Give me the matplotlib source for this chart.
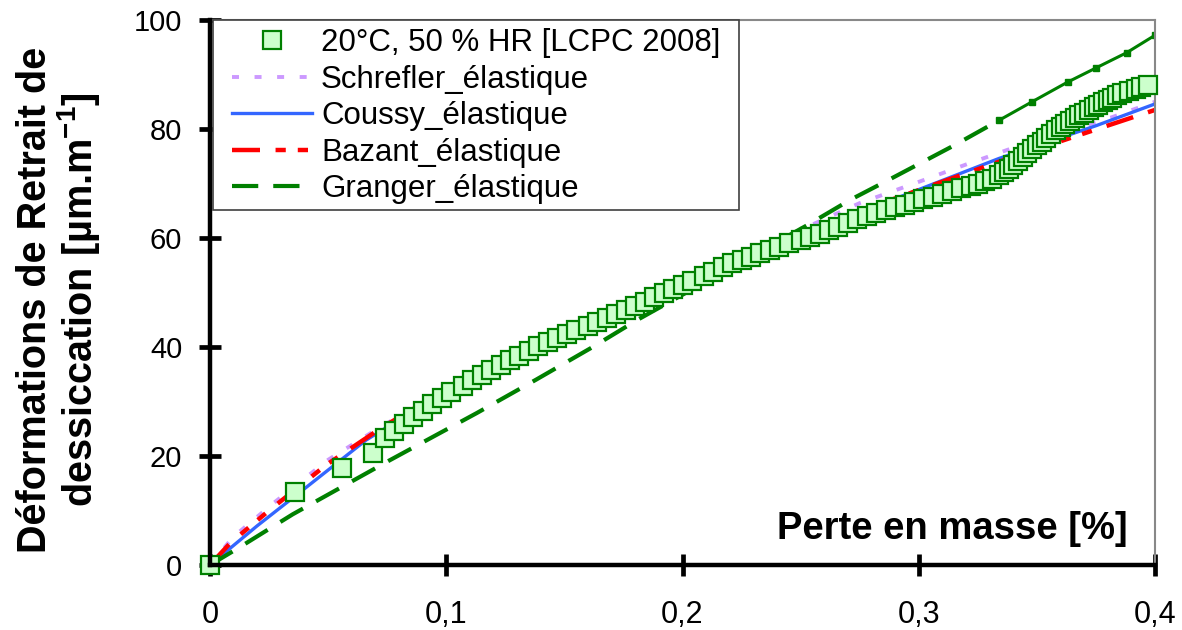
import numpy as np
import matplotlib
matplotlib.use('Agg')
import matplotlib.pyplot as plt
from matplotlib.patches import Rectangle

plt.rcParams['font.family'] = ['Liberation Sans', 'DejaVu Sans']
plt.rcParams['mathtext.fontset'] = 'custom'
plt.rcParams['mathtext.rm'] = 'Liberation Sans'
plt.rcParams['mathtext.bf'] = 'Liberation Sans:bold'

# experimental points, 20 C / 50 % HR [LCPC 2008]
exp_x = [0.000, 0.036, 0.056, 0.069,
         0.074, 0.078, 0.082, 0.086, 0.090, 0.094, 0.098, 0.102, 0.107, 0.111,
         0.115, 0.119, 0.123, 0.127, 0.131, 0.135, 0.139, 0.143, 0.147, 0.151,
         0.155, 0.160, 0.164, 0.168, 0.172, 0.176, 0.180, 0.184, 0.188, 0.192,
         0.196, 0.200, 0.204, 0.209, 0.213, 0.217, 0.221, 0.225, 0.229, 0.233,
         0.237, 0.241, 0.245, 0.250, 0.254, 0.258, 0.262, 0.266, 0.270, 0.274,
         0.278, 0.282, 0.286, 0.290, 0.294, 0.298, 0.302, 0.306, 0.310, 0.314,
         0.318, 0.322, 0.325, 0.328, 0.331, 0.334, 0.336, 0.338, 0.340, 0.342,
         0.344, 0.346, 0.348, 0.350, 0.352, 0.354, 0.356, 0.358, 0.360, 0.362,
         0.364, 0.366, 0.368, 0.370, 0.372, 0.374, 0.376, 0.378, 0.380, 0.382,
         0.384, 0.386, 0.389, 0.392, 0.394, 0.397]
exp_y = [0.0, 13.4, 17.8, 20.5,
         23.3, 24.6, 25.9, 27.1, 28.3, 29.5, 30.6, 31.7, 32.8, 33.9,
         34.9, 35.8, 36.7, 37.6, 38.4, 39.3, 40.1, 40.9, 41.6, 42.4,
         43.1, 43.9, 44.6, 45.3, 46.0, 46.7, 47.5, 48.3, 49.1, 49.9,
         50.6, 51.4, 52.2, 53.0, 53.8, 54.6, 55.4, 56.0, 56.6, 57.2,
         57.8, 58.4, 59.0, 59.6, 60.2, 60.8, 61.4, 62.1, 62.8, 63.4,
         64.0, 64.6, 65.1, 65.6, 66.1, 66.6, 67.1, 67.6, 68.1, 68.6,
         69.1, 69.6, 70.0, 70.4, 70.9, 71.5, 72.1, 72.7, 73.4, 74.1,
         74.9, 75.6, 76.3, 77.0, 77.7, 78.4, 79.1, 79.8, 80.4, 80.9,
         81.5, 82.0, 82.5, 83.0, 83.5, 84.0, 84.4, 84.9, 85.3, 85.7,
         86.2, 86.6, 87.0, 87.4, 87.7, 88.1]

schrefler_x = [0, 0.0097, 0.027, 0.050, 0.068, 0.10, 0.15, 0.20, 0.25, 0.275, 0.30, 0.322, 0.341, 0.382, 0.40]
schrefler_y = [0, 5.1, 11.4, 19.3, 24.2, 32.5, 43.5, 52.3, 61.5, 66.4, 70.3, 73.8, 76.7, 82.2, 85.0]

coussy_x = [0, 0.02, 0.04, 0.066, 0.10, 0.15, 0.20, 0.25, 0.29, 0.334, 0.375, 0.40]
coussy_y = [0, 7.2, 14.0, 22.9, 32.0, 42.5, 51.5, 59.8, 67.2, 74.6, 80.6, 84.6]

bazant_x = [0, 0.0085, 0.025, 0.049, 0.073, 0.10, 0.15, 0.20, 0.25, 0.287, 0.334, 0.377, 0.40]
bazant_y = [0, 4.0, 10.0, 18.3, 25.3, 32.2, 42.6, 51.6, 59.8, 66.8, 74.0, 80.2, 83.5]

granger_x = [0, 0.0127, 0.035, 0.076, 0.113, 0.138, 0.162, 0.181, 0.253, 0.271, 0.287, 0.315,
             0.334, 0.348, 0.363, 0.375, 0.388, 0.40]
granger_y = [0, 3.3, 9.3, 19.2, 27.9, 34.0, 40.0, 45.0, 62.4, 67.0, 70.6, 77.0,
             81.6, 85.0, 88.6, 91.2, 94.0, 97.2]

labels = ['20°C, 50 % HR [LCPC 2008]', 'Schrefler_élastique', 'Coussy_élastique',
          'Bazant_élastique', 'Granger_élastique']

W, H = 1182, 630
fig = plt.figure(figsize=(W/100, H/100), dpi=100)
ax = fig.add_axes([210/W, 65/H, 945/W, 545/H])

l1, = ax.plot(schrefler_x, schrefler_y, color='#CC99FF', lw=2.8, dashes=(1.8, 4.0), zorder=2)
l2, = ax.plot(coussy_x, coussy_y, color='#3366FF', lw=2.4, zorder=2)
l3, = ax.plot(bazant_x, bazant_y, color='#FF0000', lw=3.2, dashes=(6.3, 3.5, 2.3, 2.7, 2.3, 3.5), zorder=2)

# Granger: long dashes, the dense end of the series looks like a solid line with small points
gx = np.array(granger_x)
gy = np.array(granger_y)
head = gx <= 0.334
tail = gx >= 0.334
l4, = ax.plot(gx[head], gy[head], color='#008000', lw=3.0, dashes=(6.3, 3.6), zorder=2)
ax.plot(gx[tail], gy[tail], color='#008000', lw=2.2, marker='s', ms=4, zorder=2)

m, = ax.plot(exp_x, exp_y, ls='none', marker='s', ms=12.5, mfc='#CCFFCC', mec='#008000',
             mew=1.6, zorder=3, clip_on=False)

ax.set_xlim(0, 0.4)
ax.set_ylim(0, 100)
ax.set_xticks([0, 0.1, 0.2, 0.3, 0.4])
ax.set_xticklabels(['0', '0,1', '0,2', '0,3', '0,4'])
ax.set_yticks([0, 20, 40, 60, 80, 100])
ax.tick_params(axis='both', direction='inout', length=16, width=3.4)
ax.tick_params(axis='x', pad=17, labelsize=22)
ax.tick_params(axis='y', pad=12, labelsize=21)
for s in ['left', 'bottom']:
    ax.spines[s].set_linewidth(3.2)
    ax.spines[s].set_color('black')
    ax.spines[s].set_zorder(4)
for s in ['top', 'right']:
    ax.spines[s].set_linewidth(1.5)
    ax.spines[s].set_color('#888888')

fig.text(1128/W, 1 - 529/H, 'Perte en masse [%]', ha='right', va='center',
         fontsize=27.5, fontweight='bold')
fig.text(59/W, 1 - 300/H, 'Déformations de Retrait de\ndessiccation [µm.m$^{\\mathbf{-1}}$]',
         rotation=90, ha='center', va='center', fontsize=28.5, fontweight='bold',
         multialignment='center', linespacing=1.05)

# legend box drawn by hand so the padding can match
box = Rectangle((213/W, 1 - 210/H), (739 - 213)/W, (210 - 20)/H, transform=fig.transFigure,
                facecolor='white', edgecolor='#404040', lw=1.2, zorder=5)
fig.add_artist(box)
leg = fig.legend([m, l1, l2, l3, l4], labels, loc='upper left',
                 bbox_to_anchor=(232/W, 1 - 28/H), borderaxespad=0, borderpad=0,
                 fontsize=22.5, frameon=False, handlelength=2.55, handletextpad=0.3,
                 labelspacing=0.21)
leg.set_zorder(6)

fig.savefig('out.png', dpi=100)
